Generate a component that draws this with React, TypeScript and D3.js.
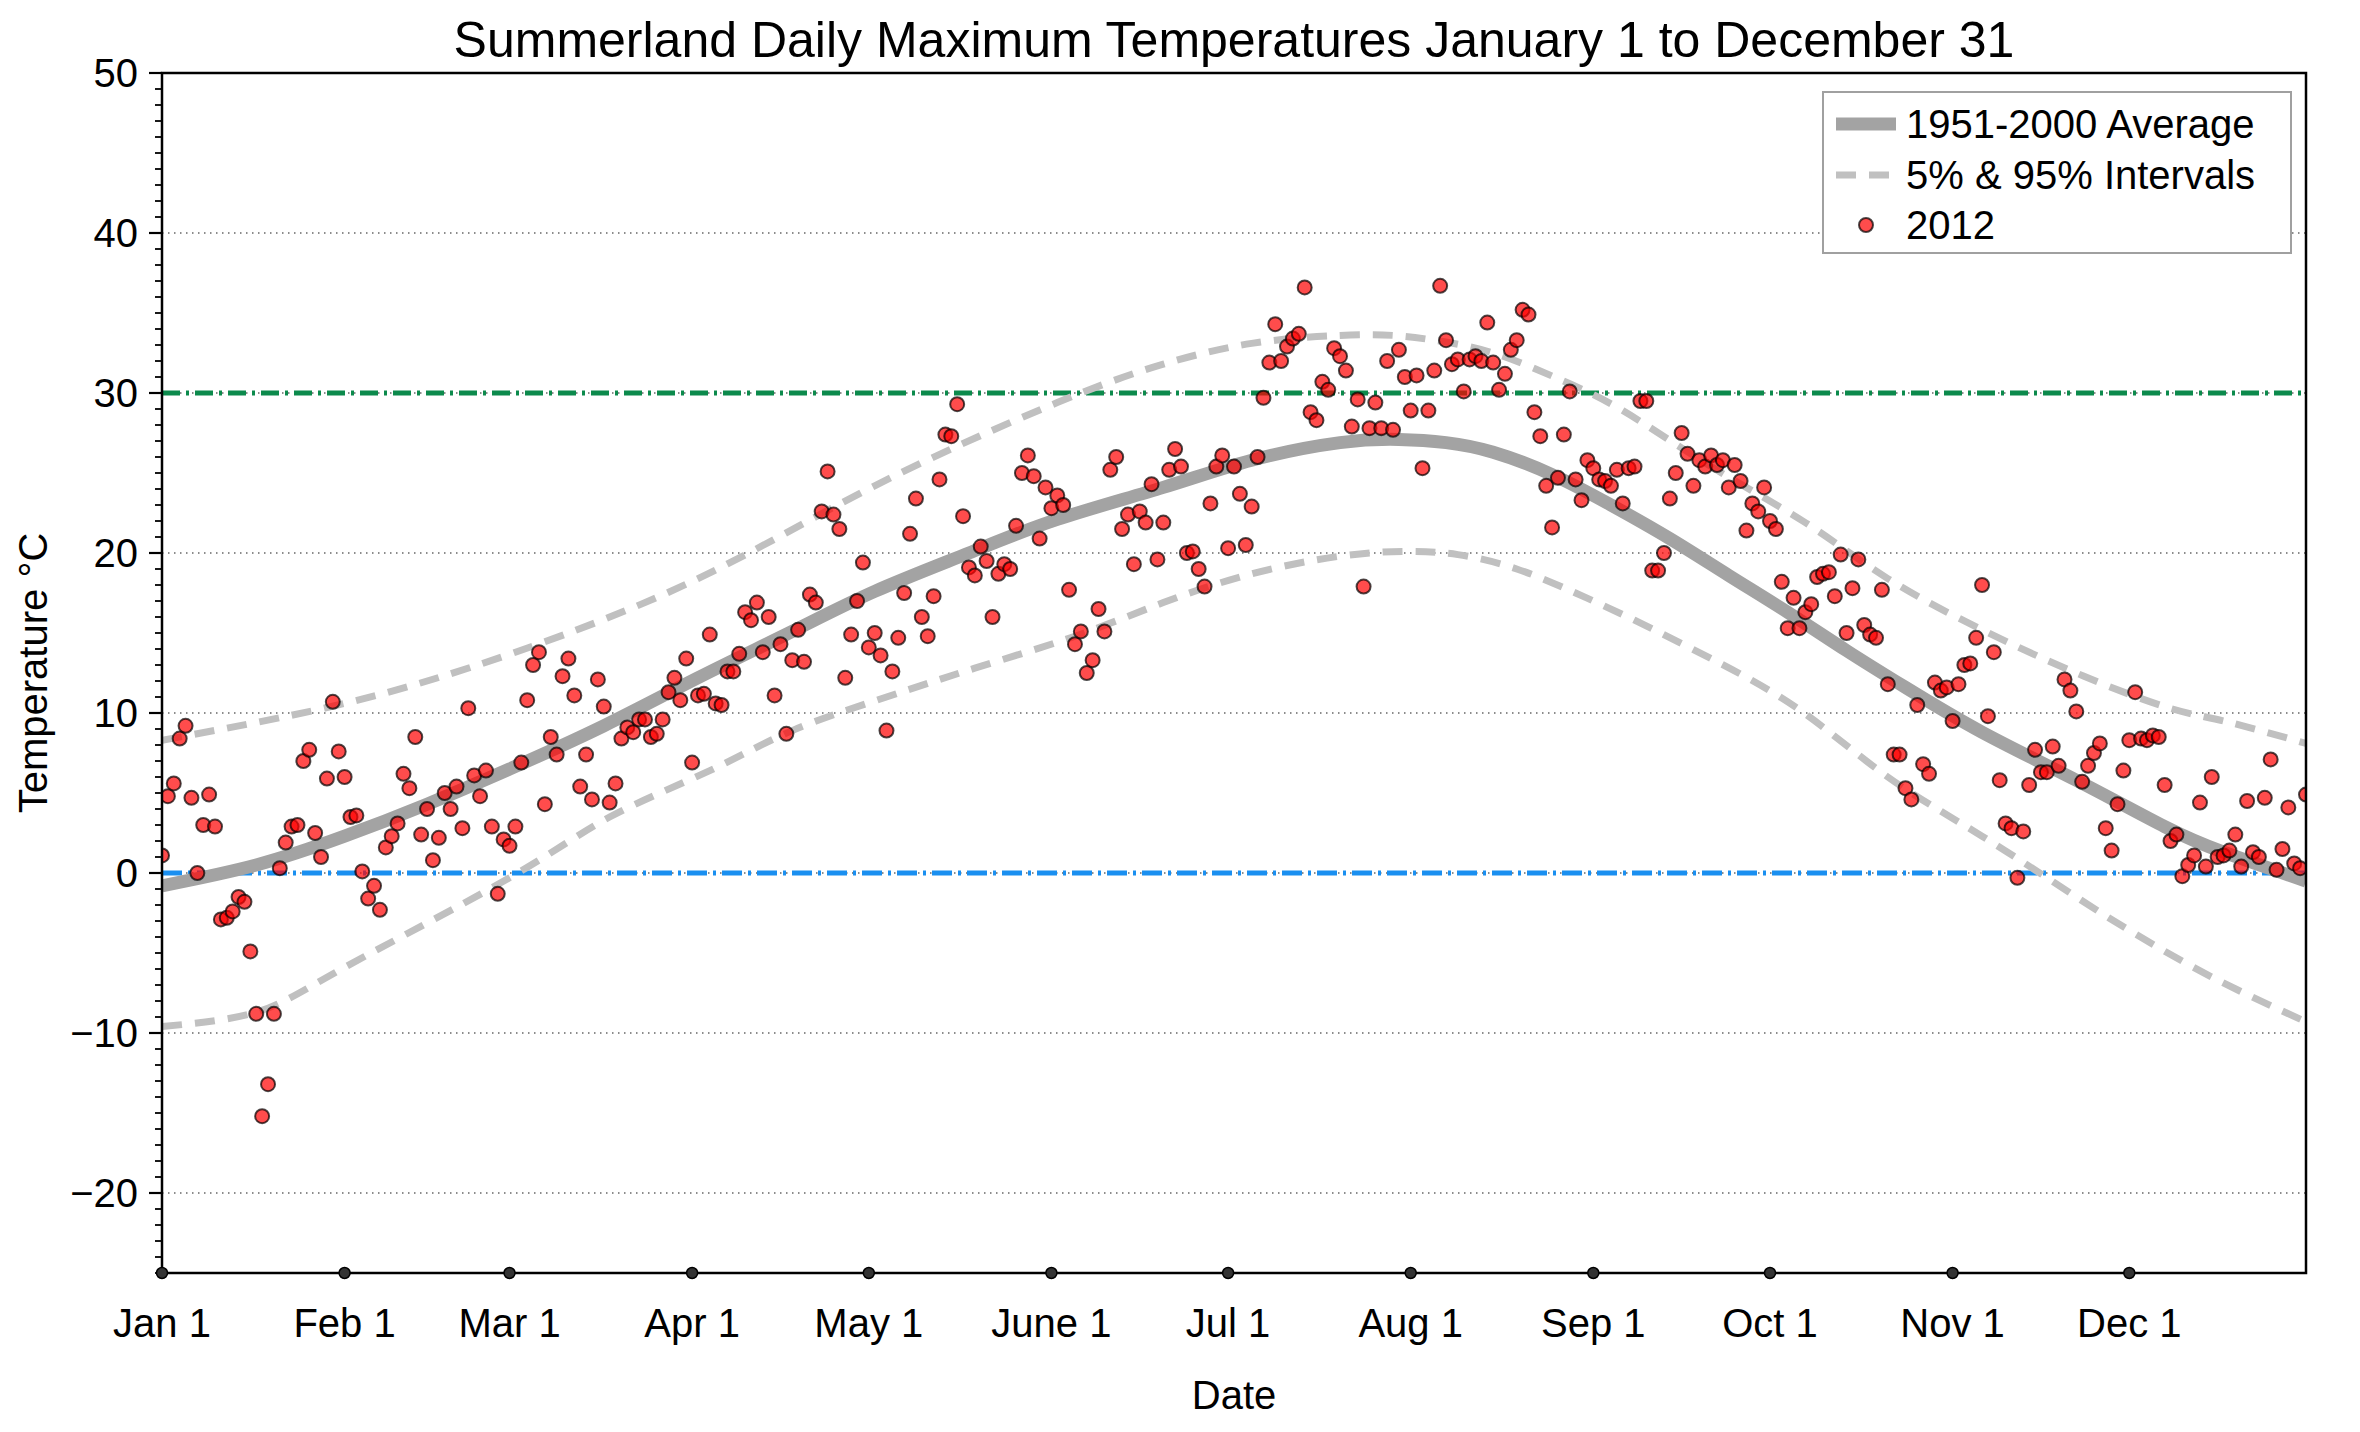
import * as d3 from 'd3';

// Daily maximum temperatures for 2012 (°C), one array per month
const jan = [1.1, 4.8, 5.6, 8.4, 9.2, 4.7, 0.0, 3.0, 4.9, 2.9, -2.9, -2.8, -2.4, -1.5, -1.8, -4.9, -8.8, -15.2, -13.2, -8.8, 0.3, 1.9, 2.9, 3.0, 7.0, 7.7, 2.5, 1.0, 5.9, 10.7, 7.6];
const feb = [6.0, 3.5, 3.6, 0.1, -1.6, -0.8, -2.3, 1.6, 2.3, 3.1, 6.2, 5.3, 8.5, 2.4, 4.0, 0.8, 2.2, 5.0, 4.0, 5.4, 2.8, 10.3, 6.1, 4.8, 6.4, 2.9, -1.3, 2.1];
const mar = [1.7, 2.9, 6.9, 10.8, 13.0, 13.8, 4.3, 8.5, 7.4, 12.3, 13.4, 11.1, 5.4, 7.4, 4.6, 12.1, 10.4, 4.4, 5.6, 8.4, 9.1, 8.8, 9.6, 9.6, 8.5, 8.7, 9.6, 11.3, 12.2, 10.8, 13.4];
const apr = [6.9, 11.1, 11.2, 14.9, 10.6, 10.5, 12.6, 12.6, 13.7, 16.3, 15.8, 16.9, 13.8, 16.0, 11.1, 14.3, 8.7, 13.3, 15.2, 13.2, 17.4, 16.9, 22.6, 25.1, 22.4, 21.5, 12.2, 14.9, 17.0, 19.4];
const may = [14.1, 15.0, 13.6, 8.9, 12.6, 14.7, 17.5, 21.2, 23.4, 16.0, 14.8, 17.3, 24.6, 27.4, 27.3, 29.3, 22.3, 19.1, 18.6, 20.4, 19.5, 16.0, 18.7, 19.3, 19.0, 21.7, 25.0, 26.1, 24.8, 20.9, 24.1];
const jun = [22.8, 23.6, 23.0, 17.7, 14.3, 15.1, 12.5, 13.3, 16.5, 15.1, 25.2, 26.0, 21.5, 22.4, 19.3, 22.6, 21.9, 24.3, 19.6, 21.9, 25.2, 26.5, 25.4, 20.0, 20.1, 19.0, 17.9, 23.1, 25.4, 26.1];
const jul = [20.3, 25.4, 23.7, 20.5, 22.9, 26.0, 29.7, 31.9, 34.3, 32.0, 32.9, 33.4, 33.7, 36.6, 28.8, 28.3, 30.7, 30.2, 32.8, 32.3, 31.4, 27.9, 29.6, 17.9, 27.8, 29.4, 27.8, 32.0, 27.7, 32.7, 31.0];
const aug = [28.9, 31.1, 25.3, 28.9, 31.4, 36.7, 33.3, 31.8, 32.1, 30.1, 32.1, 32.3, 32.0, 34.4, 31.9, 30.2, 31.2, 32.7, 33.3, 35.2, 34.9, 28.8, 27.3, 24.2, 21.6, 24.7, 27.4, 30.1, 24.6, 23.3, 25.8];
const sep = [25.3, 24.6, 24.5, 24.2, 25.2, 23.1, 25.3, 25.4, 29.5, 29.5, 18.9, 18.9, 20.0, 23.4, 25.0, 27.5, 26.2, 24.2, 25.8, 25.4, 26.1, 25.5, 25.8, 24.1, 25.5, 24.5, 21.4, 23.1, 22.6, 24.1];
const oct = [22.0, 21.5, 18.2, 15.3, 17.2, 15.3, 16.3, 16.8, 18.5, 18.7, 18.8, 17.3, 19.9, 15.0, 17.8, 19.6, 15.5, 14.9, 14.7, 17.7, 11.8, 7.4, 7.4, 5.3, 4.6, 10.5, 6.8, 6.2, 11.9, 11.4, 11.6];
const nov = [9.5, 11.8, 13.0, 13.1, 14.7, 18.0, 9.8, 13.8, 5.8, 3.1, 2.8, -0.3, 2.6, 5.5, 7.7, 6.3, 6.3, 7.9, 6.7, 12.1, 11.4, 10.1, 5.7, 6.7, 7.5, 8.1, 2.8, 1.4, 4.3, 6.4];
const dec = [8.3, 11.3, 8.4, 8.3, 8.6, 8.5, 5.5, 2.0, 2.4, -0.2, 0.5, 1.1, 4.4, 0.4, 6.0, 1.0, 1.1, 1.4, 2.4, 0.4, 4.5, 1.3, 1.0, 4.7, 7.1, 0.2, 1.5, 4.1, 0.6, 0.3, 4.9];

const months = [jan, feb, mar, apr, may, jun, jul, aug, sep, oct, nov, dec];
const monthLabels = ['Jan 1', 'Feb 1', 'Mar 1', 'Apr 1', 'May 1', 'June 1', 'Jul 1', 'Aug 1', 'Sep 1', 'Oct 1', 'Nov 1', 'Dec 1'];

// 1951-2000 climatology, sampled along the year
const avgDays = [0, 16, 31, 45, 59, 75, 91, 107, 121, 137, 152, 170, 185, 200, 210, 218, 226, 236, 246, 256, 266, 276, 286, 296, 309, 325, 340, 350, 364];
const avgVals = [-0.8, 0.5, 2.3, 4.3, 6.5, 9.2, 12.2, 15.1, 17.6, 20.0, 22.1, 24.1, 25.8, 26.9, 27.1, 26.9, 26.3, 24.9, 23.0, 20.9, 18.6, 16.3, 13.9, 11.6, 8.8, 5.8, 2.9, 1.3, -0.5];
const p95Days = [0, 31, 60, 91, 121, 152, 170, 185, 200, 209, 216, 226, 237, 248, 263, 279, 293, 309, 325, 340, 350, 364];
const p95Vals = [8.3, 10.6, 13.8, 18.4, 24.2, 29.4, 31.8, 33.1, 33.6, 33.6, 33.3, 32.5, 30.9, 28.9, 25.4, 21.9, 18.4, 15.2, 12.5, 10.4, 9.5, 8.1];
const p5Days = [0, 16, 31, 59, 76, 93, 107, 123, 138, 155, 170, 185, 200, 211, 220, 230, 240, 250, 263, 278, 293, 309, 325, 335, 348, 364];
const p5Vals = [-9.6, -8.7, -5.9, -0.3, 3.5, 6.4, 8.9, 11.0, 12.8, 14.8, 16.9, 18.7, 19.8, 20.1, 19.9, 19.0, 17.5, 15.8, 13.4, 10.2, 6.0, 2.3, -1.5, -3.8, -6.5, -9.3];

const W = 2360;
const H = 1432;
const FONT = '"Liberation Sans", Arial, Helvetica, sans-serif';

export default function App() {
  const temps = months.flat();
  const monthStarts = [0, ...d3.cumsum(months.map(m => m.length)).slice(0, 11)];

  const left = 162, right = 2306, top = 73, bottom = 1273;
  const x = d3.scaleLinear([0, temps.length - 1], [left, right]);
  const y = d3.scaleLinear([-25, 50], [bottom, top]);

  const curve = d3.line<[number, number]>()
    .x(d => x(d[0])).y(d => y(d[1]))
    .curve(d3.curveNatural);
  const avgPath = curve(d3.zip(avgDays, avgVals) as [number, number][]) ?? '';
  const p95Path = curve(d3.zip(p95Days, p95Vals) as [number, number][]) ?? '';
  const p5Path = curve(d3.zip(p5Days, p5Vals) as [number, number][]) ?? '';

  const majorY = y.ticks(8);
  const minorY = y.ticks(75);
  const fmt = (v: number) => (v < 0 ? '\u2212' + Math.abs(v) : String(v));

  return (
    <svg width={W} height={H} style={{ position: 'absolute', left: 0, top: 0, background: '#fff' }}
      fontFamily={FONT}>
      <defs>
        <clipPath id="plot">
          <rect x={left} y={top} width={right - left} height={bottom - top} />
        </clipPath>
      </defs>

      {/* grid */}
      {majorY.filter(v => v > -25 && v < 50).map(v => (
        <line key={'g' + v} x1={left} x2={right} y1={y(v)} y2={y(v)}
          stroke="#8c8c8c" strokeWidth={2} strokeDasharray="1.5 4.5" />
      ))}

      <g clipPath="url(#plot)">
        {/* reference lines */}
        <line x1={left} x2={right} y1={y(0)} y2={y(0)} stroke="#1a8ff0" strokeWidth={5} strokeDasharray="20 6 3 6" />
        <line x1={left} x2={right} y1={y(30)} y2={y(30)} stroke="#0c8a4c" strokeWidth={5} strokeDasharray="18 6 3 6" />

        <path d={p95Path} fill="none" stroke="#c0c0c0" strokeWidth={7} strokeDasharray="20 13" />
        <path d={p5Path} fill="none" stroke="#c0c0c0" strokeWidth={7} strokeDasharray="20 13" />
        <path d={avgPath} fill="none" stroke="#a3a3a3" strokeWidth={13} />

        {temps.map((t, i) => (
          <circle key={i} cx={x(i)} cy={y(t)} r={7} fill="red" fillOpacity={0.7}
            stroke="#000" strokeOpacity={0.7} strokeWidth={2} />
        ))}
      </g>

      {/* frame */}
      <rect x={left} y={top} width={right - left} height={bottom - top} fill="none" stroke="#000" strokeWidth={2.5} />

      {/* y ticks */}
      {minorY.map(v => (
        <line key={'m' + v} x1={left - 7} x2={left} y1={y(v)} y2={y(v)} stroke="#000" strokeWidth={1.8} />
      ))}
      {majorY.map(v => (
        <g key={'t' + v}>
          <line x1={left - 13} x2={left} y1={y(v)} y2={y(v)} stroke="#000" strokeWidth={2.2} />
          <text x={left - 24} y={y(v)} dy="0.35em" textAnchor="end" fontSize={40}>{fmt(v)}</text>
        </g>
      ))}

      {/* x ticks: month starts */}
      {monthStarts.map((d, i) => (
        <g key={'x' + i}>
          <circle cx={x(d)} cy={bottom} r={5.5} fill="#333" stroke="#000" strokeWidth={1.5} />
          <text x={x(d)} y={bottom + 64} textAnchor="middle" fontSize={40}>{monthLabels[i]}</text>
        </g>
      ))}

      {/* labels */}
      <text x={(left + right) / 2} y={57} textAnchor="middle" fontSize={50}>
        Summerland Daily Maximum Temperatures January 1 to December 31
      </text>
      <text x={(left + right) / 2} y={1409} textAnchor="middle" fontSize={40}>Date</text>
      <text transform={`translate(47,${(top + bottom) / 2}) rotate(-90)`} textAnchor="middle" fontSize={40}>
        Temperature °C
      </text>

      {/* legend */}
      <g>
        <rect x={1823} y={92} width={468} height={161} fill="#fff" stroke="#a0a0a0" strokeWidth={2} />
        <line x1={1836} x2={1896} y1={124} y2={124} stroke="#a3a3a3" strokeWidth={13} />
        <line x1={1836} x2={1896} y1={175} y2={175} stroke="#c0c0c0" strokeWidth={7} strokeDasharray="20 13" />
        <circle cx={1866} cy={225} r={7} fill="red" fillOpacity={0.7} stroke="#000" strokeOpacity={0.7} strokeWidth={2} />
        <text x={1906} y={124} dy="0.35em" fontSize={40}>1951-2000 Average</text>
        <text x={1906} y={175} dy="0.35em" fontSize={40}>5% &amp; 95% Intervals</text>
        <text x={1906} y={225} dy="0.35em" fontSize={40}>2012</text>
      </g>
    </svg>
  );
}
